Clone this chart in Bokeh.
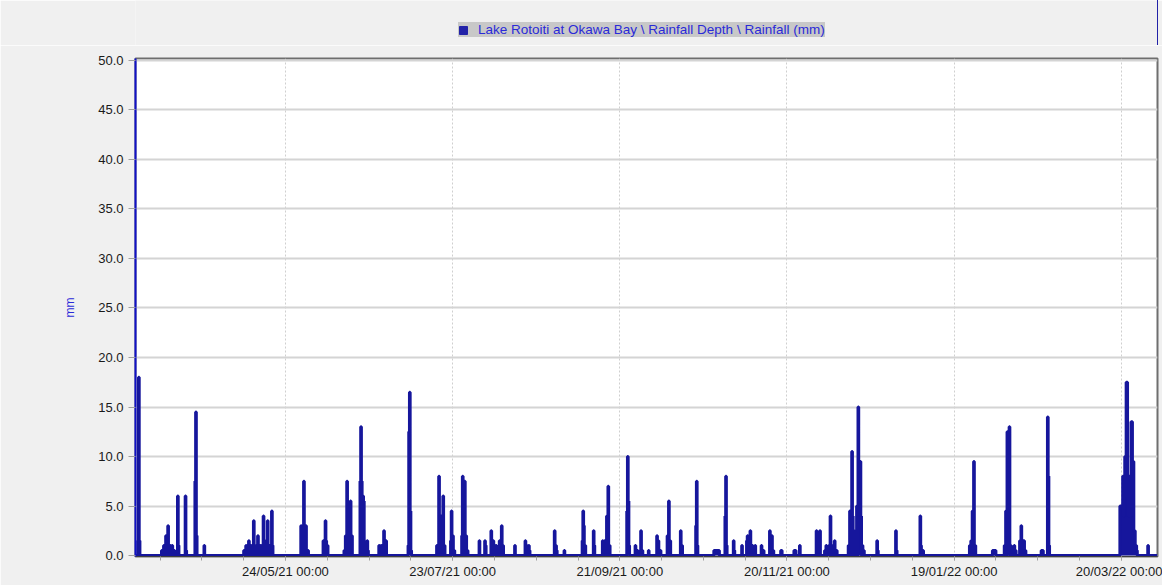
import pandas as pd
from bokeh.plotting import figure
from bokeh.layouts import column
from bokeh.models import (Range1d, FixedTicker, SingleIntervalTicker, PrintfTickFormatter,
                          DatetimeTickFormatter, Legend, LegendItem, ColumnDataSource)
from bokeh.embed import file_html
from bokeh.resources import INLINE

# ---------------- data ----------------
series_label = "Lake Rotoiti at Okawa Bay \\ Rainfall Depth \\ Rainfall (mm)"
y_label = "mm"
x_tick_labels = ["24/05/21 00:00", "23/07/21 00:00", "21/09/21 00:00",
                 "20/11/21 00:00", "19/01/22 00:00", "20/03/22 00:00"]
y_tick_step = 5.0

rain_time = [
    "2021-04-01 00:00", "2021-04-01 06:00", "2021-04-01 12:00",
    "2021-04-09 12:00", "2021-04-10 06:00", "2021-04-11 00:00", "2021-04-11 18:00",
    "2021-04-12 12:00", "2021-04-13 06:00", "2021-04-14 00:00",
    "2021-04-15 06:00", "2021-04-15 12:00", "2021-04-18 00:00", "2021-04-18 06:00",
    "2021-04-21 12:00", "2021-04-21 18:00", "2021-04-22 00:00", "2021-04-24 18:00",
    "2021-05-09 00:00", "2021-05-09 18:00", "2021-05-10 18:00", "2021-05-11 12:00",
    "2021-05-12 12:00", "2021-05-13 00:00", "2021-05-14 00:00", "2021-05-15 00:00",
    "2021-05-16 00:00", "2021-05-16 12:00", "2021-05-17 12:00", "2021-05-18 06:00",
    "2021-05-19 00:00", "2021-05-19 06:00",
    "2021-05-29 12:00", "2021-05-30 12:00", "2021-05-30 18:00", "2021-05-31 06:00",
    "2021-06-01 00:00",
    "2021-06-06 12:00", "2021-06-07 06:00", "2021-06-07 12:00", "2021-06-08 00:00",
    "2021-06-14 00:00", "2021-06-14 12:00", "2021-06-15 00:00", "2021-06-15 12:00",
    "2021-06-16 06:00", "2021-06-16 18:00",
    "2021-06-19 18:00", "2021-06-20 00:00", "2021-06-20 06:00", "2021-06-20 18:00",
    "2021-06-21 00:00", "2021-06-22 00:00", "2021-06-22 06:00", "2021-06-22 12:00",
    "2021-06-26 12:00", "2021-06-27 06:00", "2021-06-28 06:00", "2021-06-29 00:00",
    "2021-07-07 00:00", "2021-07-07 06:00", "2021-07-07 12:00", "2021-07-07 18:00",
    "2021-07-08 00:00",
    "2021-07-17 06:00", "2021-07-18 00:00", "2021-07-18 18:00", "2021-07-19 12:00",
    "2021-07-20 00:00",
    "2021-07-22 06:00", "2021-07-22 12:00", "2021-07-23 00:00", "2021-07-23 12:00",
    "2021-07-26 06:00", "2021-07-26 12:00", "2021-07-27 06:00", "2021-07-27 18:00",
    "2021-07-28 06:00",
    "2021-08-01 12:00", "2021-08-03 12:00", "2021-08-03 18:00",
    "2021-08-05 18:00", "2021-08-06 12:00", "2021-08-07 12:00", "2021-08-08 18:00",
    "2021-08-09 12:00", "2021-08-10 00:00", "2021-08-14 06:00",
    "2021-08-18 00:00", "2021-08-18 12:00", "2021-08-19 06:00", "2021-08-19 12:00",
    "2021-08-28 12:00", "2021-08-29 00:00", "2021-08-29 06:00", "2021-09-01 00:00",
    "2021-09-07 12:00", "2021-09-07 18:00", "2021-09-08 00:00", "2021-09-08 12:00",
    "2021-09-11 12:00", "2021-09-11 18:00",
    "2021-09-14 18:00", "2021-09-15 12:00", "2021-09-16 06:00", "2021-09-16 18:00",
    "2021-09-17 06:00",
    "2021-09-23 12:00", "2021-09-23 18:00", "2021-09-24 00:00", "2021-09-24 06:00",
    "2021-09-26 12:00", "2021-09-27 06:00", "2021-09-28 12:00", "2021-09-29 00:00",
    "2021-10-01 06:00", "2021-10-04 06:00", "2021-10-04 18:00", "2021-10-05 12:00",
    "2021-10-08 00:00", "2021-10-08 12:00", "2021-10-09 00:00",
    "2021-10-12 18:00", "2021-10-13 06:00",
    "2021-10-18 06:00", "2021-10-18 12:00", "2021-10-18 18:00",
    "2021-10-24 18:00", "2021-10-25 00:00", "2021-10-25 06:00", "2021-10-25 12:00",
    "2021-10-25 18:00", "2021-10-26 00:00", "2021-10-26 06:00", "2021-10-26 12:00",
    "2021-10-28 18:00", "2021-10-29 00:00", "2021-10-29 06:00",
    "2021-10-31 18:00", "2021-11-01 00:00",
    "2021-11-03 18:00", "2021-11-05 12:00", "2021-11-05 18:00", "2021-11-06 18:00",
    "2021-11-07 12:00", "2021-11-08 12:00", "2021-11-10 18:00", "2021-11-11 12:00",
    "2021-11-13 18:00", "2021-11-14 12:00", "2021-11-15 00:00",
    "2021-11-17 18:00", "2021-11-18 00:00",
    "2021-11-22 12:00", "2021-11-22 18:00", "2021-11-23 00:00", "2021-11-24 12:00",
    "2021-11-30 12:00", "2021-12-01 18:00", "2021-12-03 12:00", "2021-12-04 00:00",
    "2021-12-05 00:00", "2021-12-05 12:00", "2021-12-06 00:00", "2021-12-07 00:00",
    "2021-12-07 18:00",
    "2021-12-12 00:00", "2021-12-12 12:00", "2021-12-13 06:00", "2021-12-13 12:00",
    "2021-12-14 00:00", "2021-12-15 00:00", "2021-12-15 12:00", "2021-12-15 18:00",
    "2021-12-16 00:00", "2021-12-16 06:00", "2021-12-16 12:00", "2021-12-17 00:00",
    "2021-12-17 12:00",
    "2021-12-22 06:00", "2021-12-22 12:00", "2021-12-29 00:00", "2021-12-29 06:00",
    "2022-01-06 18:00", "2022-01-07 00:00", "2022-01-07 18:00",
    "2022-01-24 12:00", "2022-01-25 00:00", "2022-01-25 12:00", "2022-01-26 00:00",
    "2022-01-26 12:00",
    "2022-02-01 18:00", "2022-02-02 00:00", "2022-02-02 06:00", "2022-02-02 12:00",
    "2022-02-02 18:00",
    "2022-02-06 00:00", "2022-02-06 12:00", "2022-02-07 00:00", "2022-02-07 06:00",
    "2022-02-07 12:00", "2022-02-07 18:00", "2022-02-08 06:00",
    "2022-02-09 12:00", "2022-02-10 00:00",
    "2022-02-11 12:00", "2022-02-12 00:00", "2022-02-12 12:00", "2022-02-13 00:00",
    "2022-02-13 12:00",
    "2022-02-19 06:00", "2022-02-19 12:00", "2022-02-19 18:00",
    "2022-02-21 12:00", "2022-02-21 18:00", "2022-02-22 00:00",
    "2022-03-19 12:00", "2022-03-19 18:00", "2022-03-20 00:00", "2022-03-20 06:00",
    "2022-03-20 12:00", "2022-03-20 18:00", "2022-03-21 00:00", "2022-03-21 06:00",
    "2022-03-21 12:00", "2022-03-21 18:00", "2022-03-22 00:00", "2022-03-22 06:00",
    "2022-03-22 12:00", "2022-03-22 18:00", "2022-03-23 00:00", "2022-03-23 06:00",
    "2022-03-23 12:00", "2022-03-23 18:00", "2022-03-24 00:00", "2022-03-24 06:00",
    "2022-03-24 12:00", "2022-03-24 18:00", "2022-03-25 00:00", "2022-03-25 06:00",
    "2022-03-25 12:00", "2022-03-29 12:00",
]
rain_mm = [
    1.5, 18.0, 1.5,
    0.5, 1.0, 2.0, 3.0,
    1.0, 1.0, 0.5,
    6.0, 1.0, 6.0, 0.5,
    7.5, 14.5, 2.0, 1.0,
    0.5, 1.0, 1.5, 1.0,
    3.5, 1.0, 2.0, 1.0,
    4.0, 1.5, 3.5, 1.0,
    4.5, 1.0,
    3.0, 7.5, 3.0, 3.0,
    0.5,
    1.5, 3.5, 1.5, 1.0,
    0.5, 2.0, 7.5, 4.0,
    5.5, 2.0,
    7.5, 13.0, 7.5, 6.0,
    5.5, 1.0, 1.5, 0.5,
    1.0, 1.0, 2.5, 1.5,
    1.0, 12.5, 16.5, 4.5,
    0.5,
    1.0, 8.0, 4.0, 6.0,
    1.0,
    1.5, 4.5, 2.0, 0.5,
    2.0, 8.0, 7.5, 2.0,
    0.5,
    1.5, 1.5, 1.0,
    2.5, 1.5, 1.0, 1.5,
    3.0, 1.0, 1.0,
    1.5, 1.0, 1.0, 0.5,
    2.5, 1.0, 0.5, 0.5,
    1.5, 4.5, 3.0, 1.0,
    2.5, 1.0,
    1.5, 1.5, 4.0, 7.0,
    1.0,
    4.5, 10.0, 5.5, 1.0,
    1.0, 0.5, 2.5, 0.5,
    0.5, 2.0, 1.5, 0.5,
    2.0, 5.5, 1.5,
    2.5, 1.0,
    3.0, 7.5, 1.0,
    0.5, 0.5, 0.5, 0.5,
    0.5, 0.5, 0.5, 0.5,
    4.0, 8.0, 1.0,
    1.5, 0.5,
    1.0, 1.5, 2.0, 2.5,
    1.0, 1.0, 1.0, 0.5,
    2.5, 2.0, 0.5,
    0.5, 0.5,
    0.5, 0.5, 0.5, 1.0,
    2.5, 2.5, 0.5, 1.0,
    1.0, 4.0, 1.0, 1.5,
    0.5,
    1.0, 4.5, 10.5, 4.0,
    2.5, 5.0, 15.0, 9.5,
    9.5, 9.5, 4.0, 1.0,
    0.5,
    1.5, 0.5, 2.5, 0.5,
    4.0, 1.0, 0.5,
    1.0, 1.5, 4.5, 9.5,
    1.0,
    0.5, 0.5, 0.5, 0.5,
    0.5,
    1.0, 4.5, 12.5, 12.5,
    12.5, 13.0, 1.0,
    1.0, 0.5,
    1.5, 3.0, 1.5, 1.5,
    0.5,
    0.5, 0.5, 0.5,
    14.0, 8.0, 1.0,
    5.0, 5.0, 5.0, 5.0,
    8.0, 4.0, 8.0, 10.0,
    6.0, 17.5, 17.5, 8.0,
    4.0, 8.0, 6.0, 4.0,
    13.5, 13.5, 9.5, 9.5,
    2.5, 2.5, 1.0, 1.0,
    0.5, 1.0,
]

# ---------------- styling constants ----------------
FONT = "Liberation Sans"
SERIES = "#16169c"
BLUE_TXT = "#2a2ad8"
BG = "#f0f0f0"
LEG_BG = "#c8c8c8"
X_START = pd.Timestamp("2021-03-31 04:00")
X_END = pd.Timestamp("2022-04-02 00:00")
LEFT, RIGHT = 135, 5


def ms(ts):
    return ts.value / 1e6


# ---------------- build series on a regular 6-hour grid ----------------
s = pd.Series(rain_mm, index=pd.to_datetime(rain_time)).groupby(level=0).max()
grid = pd.date_range(X_START.floor("D"), X_END.ceil("D"), freq="6h")
full = s.reindex(grid, fill_value=0.0)
src = ColumnDataSource(data=dict(t=grid, v=full.values))

major = [ms(t) for t in pd.to_datetime(x_tick_labels, format="%d/%m/%y %H:%M")]
minor = [ms(t) for t in pd.date_range(pd.to_datetime(x_tick_labels[0], format="%d/%m/%y %H:%M")
                                       - pd.Timedelta(days=45), X_END, freq="15D")]

# ---------------- legend strip (top) ----------------
leg = figure(width=1162, height=45, output_backend="svg", toolbar_location=None,
             x_axis_type=None, y_axis_type=None,
             x_range=Range1d(0, 1), y_range=Range1d(0, 1),
             min_border_left=LEFT, min_border_right=RIGHT, min_border_top=0, min_border_bottom=0,
             background_fill_color=BG, border_fill_color=BG,
             outline_line_color=None)
leg.grid.visible = False
swatch = leg.vbar(x="t", top="v", width=1, source=src, fill_color="#2222a8", line_color="#2222a8")
legend = Legend(items=[LegendItem(label=series_label, renderers=[swatch])],
                location=(458 - LEFT, 8), orientation="horizontal",
                background_fill_color=LEG_BG, background_fill_alpha=1.0,
                border_line_color=None, padding=7, margin=0, spacing=0,
                glyph_width=10, glyph_height=10, label_standoff=10,
                label_width=341, label_height=10,
                label_text_font=FONT, label_text_font_size="13.5px", label_text_color=BLUE_TXT,
                click_policy="none")
leg.add_layout(legend, "center")

# ---------------- main chart ----------------
fig = figure(width=1162, height=540, x_axis_type="datetime",
             output_backend="svg", toolbar_location=None,
             x_range=Range1d(ms(X_START), ms(X_END)), y_range=Range1d(-0.1, 50.2),
             min_border_left=LEFT, min_border_right=RIGHT, min_border_top=13, min_border_bottom=29,
             background_fill_color="white", border_fill_color=BG,
             outline_line_color="#6e6e6e", outline_line_width=2)

fig.varea_step(x="t", y1=0, y2="v", source=src, step_mode="after", fill_color=SERIES)
fig.step(x="t", y="v", source=src, mode="after", line_color=SERIES, line_width=3)

fig.ygrid.ticker = SingleIntervalTicker(interval=y_tick_step, num_minor_ticks=0)
fig.ygrid.grid_line_color = "#d4d4d4"
fig.ygrid.grid_line_width = 2
fig.xgrid.ticker = FixedTicker(ticks=major)
fig.xgrid.grid_line_color = "#cfcfcf"
fig.xgrid.grid_line_width = 1
fig.xgrid.grid_line_dash = "2 2"

ya = fig.yaxis[0]
ya.ticker = SingleIntervalTicker(interval=y_tick_step, num_minor_ticks=0)
ya.formatter = PrintfTickFormatter(format="%.1f")
ya.axis_line_color = "#1010c8"
ya.axis_line_width = 2
ya.major_tick_line_color = "#a0a0a0"
ya.major_tick_out = 7
ya.major_tick_in = 0
ya.minor_tick_line_color = None
ya.major_label_standoff = 5
ya.major_label_text_font = FONT
ya.major_label_text_font_size = "13px"
ya.major_label_text_color = "#1a1a1a"
ya.axis_label = y_label
ya.axis_label_text_font = FONT
ya.axis_label_text_font_size = "12px"
ya.axis_label_text_font_style = "normal"
ya.axis_label_text_color = BLUE_TXT
ya.axis_label_standoff = 18

xa = fig.xaxis[0]
xa.ticker = FixedTicker(ticks=major, minor_ticks=minor)
fmt = "%d/%m/%y %H:%M"
xa.formatter = DatetimeTickFormatter(milliseconds=fmt, seconds=fmt, minsec=fmt, minutes=fmt,
                                     hourmin=fmt, hours=fmt, days=fmt, months=fmt, years=fmt)
xa.axis_line_color = "#404040"
xa.major_tick_line_color = "#a0a0a0"
xa.minor_tick_line_color = "#a0a0a0"
xa.major_tick_out = 4
xa.major_tick_in = 0
xa.minor_tick_out = 4
xa.minor_tick_in = 0
xa.major_label_standoff = 3
xa.major_label_text_font = FONT
xa.major_label_text_font_size = "13px"
xa.major_label_text_color = "#1a1a1a"

p = column(leg, fig, spacing=0)

open("out.html", "w").write(file_html(p, INLINE))
